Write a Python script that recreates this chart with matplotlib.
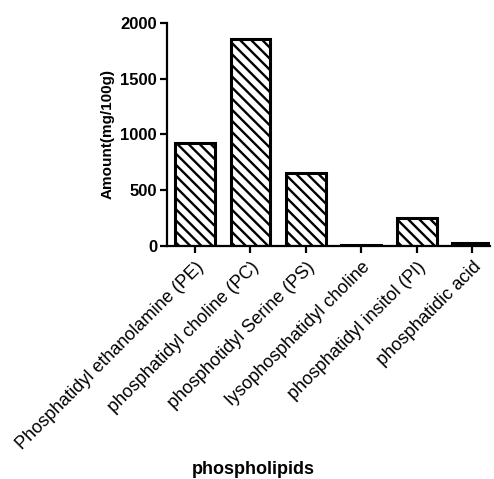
import matplotlib
matplotlib.use("Agg")
import matplotlib.pyplot as plt

plt.rcParams['font.family'] = ['Liberation Sans', 'DejaVu Sans']
plt.rcParams['hatch.linewidth'] = 1.7

categories = ["Phosphatidyl ethanolamine (PE)", "phosphatidyl choline (PC)",
              "phosphotidyl Serine (PS)", "lysophosphatidyl choline",
              "phosphatidyl insitol (PI)", "phosphatidic acid"]
amounts = [925, 1850, 650, 10, 250, 30]
y_ticks = [0, 500, 1000, 1500, 2000]

fig = plt.figure(figsize=(4.94, 4.79), dpi=100)
ax = fig.add_axes([0.3375, 0.4864, 0.6545, 0.4662])

x = list(range(len(categories)))
ax.bar(x, amounts, width=0.72, color='white', edgecolor='black',
       linewidth=2.2, hatch='\\\\\\')

ax.set_xlim(-0.51, 5.32)
ax.set_ylim(0, 2000)
ax.set_yticks(y_ticks)
ax.set_yticklabels([str(v) for v in y_ticks], fontsize=12, fontweight='bold')
ax.set_xticks(x)
ax.set_xticklabels(categories, rotation=45, ha='right', rotation_mode='anchor',
                   fontsize=13)
ax.spines['top'].set_visible(False)
ax.spines['right'].set_visible(False)
ax.spines['left'].set_linewidth(1.6)
ax.spines['bottom'].set_linewidth(1.6)
ax.tick_params(axis='both', width=1.6, length=5, direction='out')
ax.tick_params(axis='x', pad=4)
ax.tick_params(axis='y', pad=2)

ax.set_ylabel("Amount(mg/100g)", fontsize=11, fontweight='bold', labelpad=4)
fig.text(253 / 494, 1 - 469 / 479, "phospholipids", fontsize=13,
         fontweight='bold', ha='center', va='center')

fig.savefig("out.png", dpi=100)
